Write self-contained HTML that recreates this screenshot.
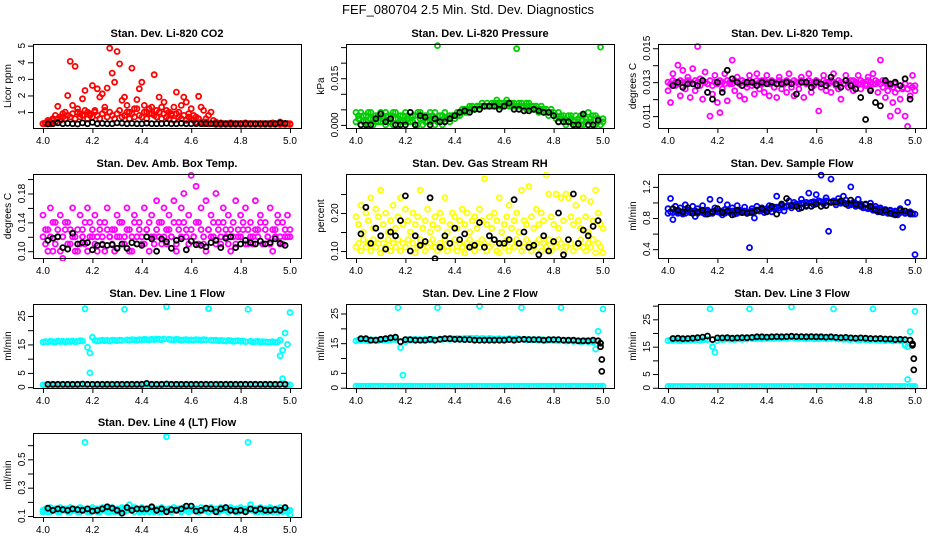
<!DOCTYPE html>
<html><head><meta charset="utf-8"><style>
body{margin:0;background:#fff;}
svg{display:block;font-family:"Liberation Sans",Arial,sans-serif;}
</style></head><body>
<svg id="chart" width="936" height="540" viewBox="0 0 936 540" xmlns="http://www.w3.org/2000/svg">
<rect width="936" height="540" fill="#fff"/>
<text x="468" y="14" text-anchor="middle" font-size="13">FEF_080704  2.5 Min. Std. Dev. Diagnostics</text>
</svg>
<script>
const t=[4.00,4.01,4.02,4.03,4.04,4.05,4.06,4.07,4.08,4.09,4.10,4.11,4.12,4.13,4.14,4.15,4.16,4.17,4.18,4.19,4.20,4.21,4.22,4.23,4.24,4.25,4.26,4.27,4.28,4.29,4.30,4.31,4.32,4.33,4.34,4.35,4.36,4.37,4.38,4.39,4.40,4.41,4.42,4.43,4.44,4.45,4.46,4.47,4.48,4.49,4.50,4.51,4.52,4.53,4.54,4.55,4.56,4.57,4.58,4.59,4.60,4.61,4.62,4.63,4.64,4.65,4.66,4.67,4.68,4.69,4.70,4.71,4.72,4.73,4.74,4.75,4.76,4.77,4.78,4.79,4.80,4.81,4.82,4.83,4.84,4.85,4.86,4.87,4.88,4.89,4.90,4.91,4.92,4.93,4.94,4.95,4.96,4.97,4.98,4.99,5.00];
const tb=[4.02,4.04,4.06,4.08,4.10,4.12,4.14,4.16,4.18,4.20,4.22,4.24,4.26,4.28,4.30,4.32,4.34,4.36,4.38,4.40,4.42,4.44,4.46,4.48,4.50,4.52,4.54,4.56,4.58,4.60,4.62,4.64,4.66,4.68,4.70,4.72,4.74,4.76,4.78,4.80,4.82,4.84,4.86,4.88,4.90,4.92,4.94,4.96,4.98];
const tEnd=[4.99,4.99,4.995,4.995];
const xTicks=[4.0,4.2,4.4,4.6,4.8,5.0];
const xTickLabels=["4.0","4.2","4.4","4.6","4.8","5.0"];

const co2A=[0.3,0.35,0.5,0.4,0.6,0.8,1.35,0.7,0.9,1.0,2.0,4.05,1.4,3.75,1.2,0.9,1.8,2.3,1.0,0.8,2.6,1.1,2.4,1.9,2.1,1.3,2.45,4.85,3.35,2.8,4.65,3.9,1.7,1.9,1.4,1.0,3.65,1.2,1.75,2.4,2.8,1.4,1.0,1.2,0.9,3.25,1.1,1.9,1.3,1.6,1.1,1.0,0.9,1.3,2.2,1.0,1.4,1.9,1.6,0.9,1.2,0.8,0.7,1.95,1.3,1.1,0.6,0.8,1.0,0.5,0.4,0.3,0.35,0.3,0.3,0.3,0.35,0.3,0.3,0.3,0.3,0.3,0.35,0.3,0.3,0.3,0.3,0.3,0.3,0.3,0.3,0.3,0.3,0.35,0.3,0.3,0.4,0.3,0.3,0.3,0.3];
const co2B=[0.3,0.3,0.4,0.3,0.5,0.4,0.6,0.5,0.7,0.6,0.8,0.7,0.9,0.6,1.0,0.7,0.8,1.1,0.6,0.9,0.7,1.0,0.8,0.6,0.9,1.1,0.7,1.0,0.8,0.6,0.9,1.1,0.7,0.8,1.0,0.6,0.9,0.7,1.2,0.8,0.7,1.0,0.6,0.9,1.3,0.8,0.7,1.0,0.6,0.9,0.7,0.6,0.8,0.5,0.9,0.7,0.6,0.8,0.5,0.7,0.6,0.5,0.4,0.6,0.4,0.3,0.4,0.3,0.3,0.3,0.25,0.3,0.25,0.3,0.25,0.3,0.25,0.3,0.25,0.3,0.25,0.3,0.25,0.3,0.25,0.3,0.25,0.3,0.25,0.3,0.25,0.3,0.25,0.3,0.25,0.3,0.25,0.3,0.25,0.3,0.25];
const co2K=[0.28,0.3,0.35,0.3,0.32,0.3,0.28,0.35,0.3,0.38,0.3,0.32,0.3,0.3,0.35,0.33,0.3,0.32,0.3,0.3,0.33,0.3,0.3,0.3,0.32,0.3,0.3,0.32,0.3,0.3,0.3,0.3,0.3,0.3,0.3,0.3,0.3,0.3,0.3,0.3,0.3,0.3,0.3,0.3,0.3,0.3,0.3,0.35,0.32];

const presA=[0.004,0.002,0.000,0.003,0.001,0.004,0.002,0.000,0.003,0.001,0.004,0.002,0.000,0.003,0.001,0.004,0.002,0.000,0.003,0.001,0.004,0.002,0.001,0.003,0.000,0.004,0.002,0.000,0.003,0.001,0.004,0.002,0.000,0.0255,0.001,0.003,0.002,0.002,0.003,0.003,0.003,0.004,0.004,0.005,0.005,0.005,0.006,0.006,0.005,0.006,0.006,0.007,0.006,0.007,0.006,0.007,0.007,0.008,0.007,0.007,0.007,0.008,0.007,0.007,0.006,0.0245,0.007,0.007,0.006,0.007,0.007,0.006,0.006,0.006,0.005,0.006,0.005,0.005,0.004,0.005,0.004,0.003,0.004,0.002,0.003,0.001,0.003,0.002,0.000,0.003,0.001,0.003,0.000,0.002,0.004,0.001,0.000,0.003,0.001,0.025,0.002];
const presB=[0.001,0.003,0.004,0.001,0.003,0.000,0.004,0.002,0.001,0.003,0.001,0.003,0.004,0.001,0.003,0.000,0.004,0.002,0.001,0.003,0.001,0.003,0.004,0.001,0.003,0.000,0.004,0.002,0.001,0.003,0.001,0.003,0.004,0.001,0.003,0.000,0.004,0.002,0.001,0.003,0.002,0.003,0.003,0.004,0.004,0.004,0.005,0.005,0.005,0.006,0.005,0.006,0.006,0.006,0.006,0.006,0.006,0.007,0.006,0.006,0.006,0.007,0.006,0.006,0.007,0.006,0.006,0.006,0.006,0.005,0.006,0.005,0.005,0.005,0.004,0.005,0.004,0.004,0.003,0.004,0.003,0.002,0.001,0.003,0.002,0.000,0.001,0.003,0.001,0.000,0.002,0.000,0.003,0.001,0.000,0.002,0.003,0.000,0.002,0.000,0.001];
const presK=[0,0,0,0.002,0.0035,0.001,0.002,0,0,0,0.004,0,0.003,0.0025,0,0.002,0.001,0.001,0.002,0.003,0.004,0.0045,0.004,0.005,0.005,0.006,0.006,0.006,0.005,0.006,0.007,0.005,0.005,0.0045,0.0045,0.005,0.0045,0.004,0.004,0.003,0.001,0.001,0.001,0,0,0.0035,0,0,0.0015];

const tempA=[0.0125,0.0118,0.0135,0.0128,0.0140,0.0122,0.0137,0.0126,0.0133,0.0121,0.0138,0.0125,0.0151,0.0132,0.0120,0.0136,0.0124,0.0110,0.0128,0.0134,0.0118,0.0112,0.0126,0.0135,0.0119,0.0129,0.0143,0.0125,0.0133,0.0122,0.0131,0.0120,0.0127,0.0134,0.0128,0.0123,0.0135,0.0126,0.0131,0.0124,0.0134,0.0122,0.0130,0.0127,0.0121,0.0133,0.0126,0.0129,0.0124,0.0135,0.0127,0.0122,0.0130,0.0126,0.0133,0.0121,0.0129,0.0135,0.0124,0.0128,0.0131,0.0113,0.0127,0.0134,0.0125,0.0130,0.0124,0.0135,0.0128,0.0126,0.0120,0.0129,0.0134,0.0127,0.0131,0.0125,0.0129,0.0134,0.0126,0.0130,0.0128,0.0133,0.0126,0.0135,0.0129,0.0124,0.0143,0.0127,0.0121,0.0125,0.0110,0.0118,0.0124,0.0113,0.0120,0.0126,0.0110,0.0104,0.0122,0.0134,0.0125];
const tempB=[0.0130,0.0129,0.0131,0.0130,0.0129,0.0131,0.0130,0.0129,0.0131,0.0130,0.0129,0.0131,0.0130,0.0128,0.0131,0.0130,0.0129,0.0131,0.0123,0.0130,0.0129,0.0131,0.0130,0.0129,0.0131,0.0130,0.0129,0.0131,0.0130,0.0129,0.0131,0.0130,0.0129,0.0131,0.0130,0.0129,0.0131,0.0130,0.0129,0.0131,0.0130,0.0129,0.0131,0.0130,0.0129,0.0131,0.0130,0.0129,0.0131,0.0130,0.0129,0.0131,0.0130,0.0129,0.0131,0.0130,0.0129,0.0131,0.0130,0.0129,0.0131,0.0130,0.0129,0.0131,0.0130,0.0129,0.0131,0.0130,0.0129,0.0131,0.0130,0.0129,0.0131,0.0130,0.0129,0.0131,0.0130,0.0129,0.0131,0.0130,0.0129,0.0131,0.0130,0.0129,0.0131,0.0130,0.0129,0.0131,0.0130,0.0129,0.0128,0.0127,0.0129,0.0126,0.0128,0.0127,0.0129,0.0126,0.0128,0.0127,0.0128];
const tempK=[0.0128,0.0130,0.0127,0.0129,0.0129,0.0128,0.0131,0.0124,0.0120,0.0130,0.0124,0.0137,0.0132,0.0130,0.0128,0.0130,0.0130,0.0128,0.0130,0.0129,0.0130,0.0129,0.0129,0.0130,0.0129,0.0123,0.0130,0.0130,0.0127,0.0130,0.0129,0.0128,0.0133,0.0129,0.0127,0.0131,0.0128,0.0126,0.0121,0.0108,0.0125,0.0118,0.0116,0.0131,0.0129,0.0130,0.0128,0.0132,0.0120];

const ambA=[0.15,0.11,0.13,0.16,0.10,0.14,0.12,0.15,0.09,0.13,0.14,0.11,0.16,0.12,0.10,0.15,0.13,0.11,0.16,0.14,0.12,0.15,0.10,0.13,0.11,0.14,0.16,0.12,0.13,0.10,0.15,0.12,0.14,0.11,0.16,0.13,0.10,0.15,0.12,0.14,0.11,0.16,0.13,0.10,0.15,0.12,0.17,0.14,0.11,0.16,0.13,0.15,0.12,0.17,0.10,0.14,0.16,0.18,0.13,0.15,0.205,0.12,0.19,0.14,0.16,0.11,0.17,0.13,0.15,0.12,0.18,0.14,0.11,0.16,0.13,0.15,0.10,0.14,0.17,0.12,0.15,0.13,0.16,0.11,0.14,0.12,0.17,0.13,0.15,0.11,0.14,0.12,0.16,0.10,0.13,0.15,0.11,0.14,0.12,0.15,0.13];
const ambB=[0.12,0.13,0.10,0.12,0.14,0.11,0.13,0.10,0.12,0.14,0.11,0.13,0.12,0.10,0.13,0.11,0.12,0.14,0.10,0.12,0.13,0.11,0.12,0.14,0.12,0.10,0.13,0.12,0.11,0.13,0.12,0.14,0.11,0.12,0.13,0.10,0.12,0.14,0.11,0.13,0.12,0.11,0.13,0.14,0.12,0.11,0.13,0.12,0.14,0.12,0.11,0.13,0.12,0.14,0.11,0.13,0.12,0.14,0.12,0.11,0.13,0.12,0.14,0.11,0.13,0.12,0.10,0.13,0.12,0.14,0.11,0.13,0.12,0.14,0.12,0.11,0.13,0.12,0.11,0.13,0.12,0.14,0.11,0.13,0.12,0.11,0.13,0.12,0.14,0.11,0.13,0.12,0.11,0.13,0.12,0.14,0.12,0.11,0.13,0.12,0.12];
const ambK=[0.115,0.118,0.12,0.105,0.103,0.125,0.11,0.112,0.112,0.102,0.108,0.109,0.108,0.109,0.104,0.11,0.104,0.112,0.11,0.108,0.12,0.117,0.100,0.117,0.113,0.104,0.115,0.117,0.102,0.114,0.109,0.108,0.106,0.112,0.115,0.105,0.118,0.12,0.105,0.110,0.115,0.112,0.110,0.114,0.110,0.112,0.117,0.111,0.108];

const rhA=[0.19,0.17,0.22,0.15,0.20,0.18,0.24,0.16,0.21,0.19,0.26,0.17,0.20,0.15,0.18,0.22,0.16,0.19,0.24,0.17,0.21,0.18,0.15,0.20,0.17,0.19,0.26,0.16,0.18,0.21,0.15,0.17,0.19,0.16,0.20,0.18,0.24,0.15,0.17,0.20,0.19,0.16,0.18,0.21,0.17,0.20,0.15,0.18,0.19,0.16,0.21,0.18,0.29,0.17,0.19,0.16,0.20,0.18,0.24,0.15,0.17,0.19,0.22,0.16,0.18,0.20,0.15,0.26,0.18,0.17,0.27,0.19,0.16,0.21,0.17,0.20,0.18,0.30,0.25,0.19,0.17,0.25,0.16,0.24,0.18,0.25,0.24,0.19,0.17,0.22,0.18,0.16,0.24,0.19,0.15,0.23,0.18,0.26,0.20,0.17,0.16];
const rhB=[0.11,0.12,0.10,0.13,0.11,0.12,0.10,0.13,0.11,0.12,0.095,0.12,0.11,0.13,0.10,0.12,0.11,0.13,0.10,0.12,0.11,0.13,0.10,0.12,0.095,0.11,0.13,0.12,0.10,0.11,0.12,0.13,0.11,0.10,0.12,0.11,0.13,0.10,0.12,0.11,0.13,0.10,0.12,0.11,0.095,0.12,0.13,0.11,0.10,0.12,0.11,0.13,0.12,0.10,0.11,0.12,0.13,0.10,0.095,0.12,0.11,0.13,0.10,0.12,0.11,0.13,0.12,0.10,0.11,0.13,0.12,0.10,0.11,0.12,0.13,0.10,0.12,0.11,0.13,0.10,0.12,0.11,0.13,0.12,0.10,0.11,0.13,0.12,0.10,0.11,0.12,0.13,0.11,0.10,0.12,0.11,0.13,0.095,0.12,0.11,0.095];
const rhK=[0.145,0.215,0.12,0.16,0.14,0.105,0.15,0.14,0.18,0.245,0.10,0.14,0.115,0.125,0.24,0.08,0.11,0.14,0.12,0.16,0.13,0.145,0.11,0.115,0.175,0.11,0.14,0.13,0.12,0.12,0.13,0.235,0.12,0.15,0.11,0.115,0.09,0.14,0.10,0.125,0.20,0.09,0.13,0.25,0.12,0.155,0.14,0.165,0.18];

const flowA=[0.92,1.05,0.78,0.95,0.88,0.93,0.85,0.97,0.90,0.87,0.95,0.82,0.92,0.88,0.96,0.85,0.90,1.04,0.86,0.93,0.89,1.03,0.84,0.91,0.97,0.87,0.93,0.85,0.96,0.90,0.88,0.94,0.86,0.42,0.92,0.80,0.95,0.89,0.93,0.87,0.91,0.96,0.88,0.94,1.08,0.90,0.97,0.89,0.95,1.02,0.93,1.00,0.96,0.92,1.04,0.98,0.95,1.12,1.00,0.97,1.10,1.02,1.35,0.98,1.06,0.63,1.30,1.01,0.97,1.05,0.99,1.08,1.03,0.96,1.20,1.00,0.95,1.04,0.98,0.93,0.97,0.92,0.99,0.90,0.95,0.88,0.93,0.87,0.91,0.86,0.90,0.85,0.89,0.84,0.92,0.68,0.86,1.00,0.88,0.85,0.33];
const flowB=[0.86,0.88,0.87,0.89,0.86,0.88,0.87,0.86,0.89,0.88,0.87,0.89,0.86,0.88,0.87,0.89,0.88,0.86,0.87,0.89,0.88,0.87,0.89,0.86,0.88,0.87,0.89,0.88,0.86,0.88,0.87,0.89,0.88,0.87,0.89,0.88,0.90,0.89,0.91,0.90,0.92,0.91,0.93,0.92,0.94,0.93,0.95,0.94,0.95,0.96,0.96,0.97,0.98,0.97,0.99,0.98,1.00,0.99,1.00,1.01,1.00,1.02,1.01,1.00,1.02,1.01,1.00,1.02,1.01,1.00,0.99,1.00,0.98,0.99,0.97,0.98,0.96,0.97,0.95,0.94,0.93,0.92,0.93,0.91,0.92,0.90,0.91,0.89,0.90,0.88,0.89,0.87,0.88,0.86,0.87,0.88,0.86,0.87,0.85,0.86,0.85];
const flowK=[0.92,0.9,0.88,0.93,0.86,0.88,0.9,0.85,0.88,0.92,0.87,0.89,0.84,0.9,0.87,0.86,0.87,0.9,0.92,0.88,0.95,0.85,0.98,1.05,0.96,0.95,0.93,0.96,0.95,0.98,0.95,0.96,1.0,1.0,1.02,0.98,1.03,0.98,0.96,0.98,0.95,0.9,0.88,0.9,0.86,0.84,0.9,0.89,0.86];

const l1A=[15.8,16.0,15.9,16.1,16.0,15.8,16.2,16.0,16.1,15.9,16.1,16.0,16.2,15.9,16.1,16.3,16.2,27.5,14.0,12.0,17.5,16.4,16.2,16.3,16.5,16.3,16.4,16.2,16.5,16.4,16.3,16.5,16.4,27.3,16.6,16.5,16.7,16.6,16.5,16.7,16.6,16.8,16.7,16.6,16.8,16.7,16.9,16.8,16.7,16.9,28.2,16.8,16.7,16.6,16.8,16.7,16.5,16.6,16.7,16.5,16.6,16.5,16.7,16.6,16.5,16.7,16.6,27.6,16.5,16.4,16.5,16.3,16.4,16.3,16.2,16.4,16.3,16.1,16.2,16.3,16.1,16.2,16.0,27.3,16.1,15.9,16.0,16.1,15.8,16.0,15.9,15.7,15.8,16.0,15.7,15.9,16.5,13.0,19.0,15.0,26.2];
const l1B=[0.8,0.8,0.8,0.8,0.8,0.8,0.8,0.8,0.8,0.8,0.8,0.8,0.8,0.8,0.8,0.8,0.8,0.8,0.8,5.0,0.8,0.8,0.8,0.8,0.8,0.8,0.8,0.8,0.8,0.8,0.8,0.8,0.8,0.8,0.8,0.8,0.8,0.8,0.8,0.8,0.8,0.8,0.8,0.8,0.8,0.8,0.8,0.8,0.8,0.8,0.8,0.8,0.8,0.8,0.8,0.8,0.8,0.8,0.8,0.8,0.8,0.8,0.8,0.8,0.8,0.8,0.8,0.8,0.8,0.8,0.8,0.8,0.8,0.8,0.8,0.8,0.8,0.8,0.8,0.8,0.8,0.8,0.8,0.8,0.8,0.8,0.8,0.8,0.8,0.8,0.8,0.8,0.8,0.8,0.8,0.8,11.0,3.0,0.8,0.8,0.8];
const l1K=[1.0,1.0,1.0,1.0,1.0,1.0,1.0,1.1,1.0,1.0,1.0,1.0,1.0,1.0,1.0,1.0,1.0,1.0,1.0,1.0,1.3,1.0,1.0,1.0,1.1,1.0,1.0,1.0,1.0,1.0,1.0,1.0,1.0,1.0,1.0,1.0,1.0,1.0,1.0,1.0,1.0,1.0,1.0,1.0,1.0,1.0,1.0,1.0,1.0];

const l2A=[15.8,16.0,15.9,16.1,16.0,15.8,16.2,16.0,16.1,15.9,16.1,16.0,16.2,15.9,16.1,16.3,16.2,27.0,13.5,4.2,15.5,16.2,16.0,16.1,16.3,16.1,16.2,16.0,16.3,16.2,16.1,16.3,16.2,27.0,16.4,16.3,16.5,16.4,16.3,16.5,16.4,16.6,16.5,16.4,16.6,16.5,16.7,16.6,16.5,16.7,27.5,16.6,16.5,16.4,16.6,16.5,16.3,16.4,16.5,16.3,16.4,16.3,16.5,16.4,16.3,16.5,16.4,27.0,16.3,16.2,16.3,16.1,16.2,16.1,16.0,16.2,16.1,15.9,16.0,16.1,15.9,16.0,15.8,27.0,15.9,15.7,15.8,15.9,15.6,15.8,15.7,15.5,15.6,15.8,15.5,15.7,15.3,13.0,19.0,15.0,26.5];
const l2B=[0.5,0.5,0.5,0.5,0.5,0.5,0.5,0.5,0.5,0.5,0.5,0.5,0.5,0.5,0.5,0.5,0.5,0.5,0.5,0.5,0.5,0.5,0.5,0.5,0.5,0.5,0.5,0.5,0.5,0.5,0.5,0.5,0.5,0.5,0.5,0.5,0.5,0.5,0.5,0.5,0.5,0.5,0.5,0.5,0.5,0.5,0.5,0.5,0.5,0.5,0.5,0.5,0.5,0.5,0.5,0.5,0.5,0.5,0.5,0.5,0.5,0.5,0.5,0.5,0.5,0.5,0.5,0.5,0.5,0.5,0.5,0.5,0.5,0.5,0.5,0.5,0.5,0.5,0.5,0.5,0.5,0.5,0.5,0.5,0.5,0.5,0.5,0.5,0.5,0.5,0.5,0.5,0.5,0.5,0.5,0.5,0.5,0.5,0.5,0.5,0.5];
const l2K=[16.5,16.5,16.0,16.0,16.3,16.5,16.8,17.0,15.5,16.2,16.2,16.0,16.0,16.0,16.3,16.0,16.3,16.5,16.5,16.3,16.3,16.2,16.2,16.0,16.0,16.0,16.0,16.0,16.0,16.0,16.2,16.0,16.2,16.3,16.2,16.2,16.2,16.0,16.2,16.2,16.2,16.0,16.0,16.0,15.8,15.8,15.8,16.0,15.8];
const l2End=[15.0,13.8,9.5,5.5];

const l3A=[17.2,17.4,17.3,17.5,17.4,17.2,17.6,17.4,17.5,17.3,17.5,17.4,17.6,17.3,17.5,17.7,17.6,28.8,15.0,13.0,17.2,17.8,17.6,17.7,17.9,17.7,17.8,17.6,17.9,17.8,17.7,17.9,17.8,28.8,18.0,17.9,18.1,18.0,17.9,18.1,18.0,18.2,18.1,18.0,18.2,18.1,18.3,18.2,18.1,18.3,29.5,18.2,18.1,18.0,18.2,18.1,17.9,18.0,18.1,17.9,18.0,17.9,18.1,18.0,17.9,18.1,18.0,28.8,17.9,17.8,17.9,17.7,17.8,17.7,17.6,17.8,17.7,17.5,17.6,17.7,17.5,17.6,17.4,28.8,17.5,17.3,17.4,17.5,17.2,17.4,17.3,17.1,17.2,17.4,17.1,17.3,15.5,15.0,20.5,16.0,27.9];
const l3B=[0.5,0.5,0.5,0.5,0.5,0.5,0.5,0.5,0.5,0.5,0.5,0.5,0.5,0.5,0.5,0.5,0.5,0.5,0.5,0.5,0.5,0.5,0.5,0.5,0.5,0.5,0.5,0.5,0.5,0.5,0.5,0.5,0.5,0.5,0.5,0.5,0.5,0.5,0.5,0.5,0.5,0.5,0.5,0.5,0.5,0.5,0.5,0.5,0.5,0.5,0.5,0.5,0.5,0.5,0.5,0.5,0.5,0.5,0.5,0.5,0.5,0.5,0.5,0.5,0.5,0.5,0.5,0.5,0.5,0.5,0.5,0.5,0.5,0.5,0.5,0.5,0.5,0.5,0.5,0.5,0.5,0.5,0.5,0.5,0.5,0.5,0.5,0.5,0.5,0.5,0.5,0.5,0.5,0.5,0.5,0.5,0.5,3.0,0.5,0.5,0.5];
const l3K=[18.0,18.1,17.9,18.0,18.1,18.3,18.5,18.9,17.6,18.2,18.2,18.3,18.1,18.2,18.3,18.3,18.4,18.6,18.6,18.5,18.6,18.7,18.6,18.7,18.8,18.7,18.7,18.6,18.7,18.6,18.6,18.5,18.6,18.4,18.3,18.4,18.2,18.1,18.2,18.1,18.0,17.9,18.0,17.8,17.8,17.6,17.7,17.6,17.4];
const l3End=[16.0,15.5,10.6,6.5];

const l4A=[0.14,0.15,0.13,0.16,0.14,0.15,0.13,0.16,0.14,0.15,0.13,0.16,0.14,0.15,0.13,0.16,0.14,0.62,0.15,0.13,0.16,0.14,0.15,0.13,0.16,0.14,0.15,0.13,0.16,0.14,0.15,0.13,0.16,0.14,0.15,0.18,0.14,0.16,0.15,0.13,0.16,0.14,0.15,0.13,0.16,0.14,0.15,0.13,0.16,0.14,0.66,0.15,0.13,0.16,0.14,0.15,0.13,0.16,0.14,0.15,0.17,0.14,0.15,0.13,0.16,0.14,0.15,0.13,0.16,0.14,0.15,0.13,0.16,0.14,0.15,0.13,0.16,0.14,0.15,0.13,0.16,0.14,0.15,0.62,0.18,0.14,0.15,0.13,0.16,0.14,0.15,0.13,0.16,0.14,0.15,0.13,0.16,0.14,0.15,0.13,0.14];
const l4B=[0.13,0.14,0.15,0.13,0.14,0.15,0.14,0.13,0.15,0.14,0.15,0.13,0.14,0.15,0.14,0.13,0.15,0.14,0.13,0.15,0.14,0.15,0.13,0.14,0.15,0.14,0.13,0.15,0.14,0.13,0.15,0.14,0.15,0.13,0.14,0.15,0.14,0.13,0.15,0.14,0.15,0.13,0.14,0.15,0.14,0.13,0.15,0.14,0.13,0.15,0.14,0.15,0.13,0.14,0.15,0.14,0.13,0.15,0.14,0.13,0.15,0.14,0.15,0.13,0.14,0.15,0.14,0.13,0.15,0.14,0.15,0.13,0.14,0.15,0.14,0.13,0.15,0.14,0.13,0.15,0.14,0.15,0.13,0.14,0.15,0.14,0.13,0.15,0.14,0.13,0.15,0.14,0.15,0.13,0.14,0.15,0.14,0.13,0.15,0.14,0.11];
const l4K=[0.155,0.14,0.15,0.145,0.14,0.15,0.145,0.14,0.15,0.135,0.14,0.15,0.165,0.155,0.14,0.12,0.16,0.14,0.15,0.15,0.15,0.165,0.14,0.15,0.13,0.145,0.14,0.15,0.17,0.17,0.135,0.14,0.155,0.15,0.13,0.15,0.16,0.14,0.135,0.14,0.13,0.15,0.14,0.15,0.14,0.14,0.145,0.14,0.16];

const panelTitles=["Stan. Dev. Li-820 CO2","Stan. Dev. Li-820 Pressure","Stan. Dev. Li-820 Temp.","Stan. Dev. Amb. Box Temp.","Stan. Dev. Gas Stream RH","Stan. Dev. Sample Flow","Stan. Dev. Line 1 Flow","Stan. Dev. Line 2 Flow","Stan. Dev. Line 3 Flow","Stan. Dev. Line 4 (LT) Flow"];
const yTitles=["Licor ppm","kPa","degrees C","degrees C","percent","ml/min","ml/min","ml/min","ml/min","ml/min"];
const yRanges=[[0.04,5.1],[-0.001,0.026],[0.0103,0.01525],[0.0906,0.207],[0.0816,0.3026],[0.287,1.365],[-0.3,29.2],[-0.1,28.2],[-0.1,30.6],[0.093,0.686]];
const yTicks=[[1,2,3,4,5],[0,0.005,0.01,0.015,0.02,0.025],[0.011,0.012,0.013,0.014,0.015],[0.10,0.12,0.14,0.16,0.18,0.20],[0.10,0.15,0.20,0.25],[0.4,0.6,0.8,1.0,1.2],[0,5,10,15,20,25],[0,5,10,15,20,25],[0,5,10,15,20,25,30],[0.1,0.2,0.3,0.4,0.5,0.6]];
const yTickLabels=[["1","2","3","4","5"],["0.000","","","0.015","",""],["0.011","","0.013","","0.015"],["0.10","","0.14","","0.18",""],["0.10","","0.20",""],["0.4","","0.8","","1.2"],["0","5","","15","","25"],["0","5","","15","","25"],["0","5","","15","","25",""],["0.1","","0.3","","0.5",""]];
const seriesDefs=[
 [[t,co2A,"#ff0000"],[t,co2B,"#ff0000"],[tb,co2K,"#000"]],
 [[t,presA,"#00cd00"],[t,presB,"#00cd00"],[tb,presK,"#000"]],
 [[t,tempA,"#ff00ff"],[t,tempB,"#ff00ff"],[tb,tempK,"#000"]],
 [[t,ambA,"#ff00ff"],[t,ambB,"#ff00ff"],[tb,ambK,"#000"]],
 [[t,rhA,"#ffff00"],[t,rhB,"#ffff00"],[tb,rhK,"#000"]],
 [[t,flowA,"#0000ff"],[t,flowB,"#0000ff"],[tb,flowK,"#000"]],
 [[t,l1A,"#00ffff"],[t,l1B,"#00ffff"],[tb,l1K,"#000"]],
 [[t,l2A,"#00ffff"],[t,l2B,"#00ffff"],[tb,l2K,"#000"],[tEnd,l2End,"#000"]],
 [[t,l3A,"#00ffff"],[t,l3B,"#00ffff"],[tb,l3K,"#000"],[tEnd,l3End,"#000"]],
 [[t,l4A,"#00ffff"],[t,l4B,"#00ffff"],[tb,l4K,"#000"]]
];

const NS="http://www.w3.org/2000/svg";
const svg=document.getElementById("chart");
const lefts=[33,346,658], tops=[44,174,304,433], W=268, H=84;
function mk(tag,attrs,parent,text){const e=document.createElementNS(NS,tag);for(const k in attrs)e.setAttribute(k,attrs[k]);if(text!==undefined)e.textContent=text;parent.appendChild(e);return e;}
function slug(s){return s.toLowerCase().replace(/[^a-z0-9]+/g,'-').replace(/^-|-$/g,'');}

panelTitles.forEach((title,i)=>{
  const L=lefts[i%3], T=tops[Math.floor(i/3)];
  const xs=v=>L+10+(v-4)*247;
  const [y0,y1]=yRanges[i];
  const ys=v=>T+H-(v-y0)/(y1-y0)*H;
  const g=mk("g",{},svg);
  
  
  const tt=mk("text",{x:L+W/2,y:T-7,"text-anchor":"middle","font-size":"11","font-weight":"bold"},g,title);
  
  
  const cp=mk("clipPath",{id:"cp"+i},g);
  mk("rect",{x:L-3,y:T-6,width:W+6,height:H+9},cp);
  const pts=mk("g",{"clip-path":"url(#cp"+i+")"},g);
  
  
  seriesDefs[i].forEach(([xa,ya,col])=>{
    ya.forEach((v,j)=>{
      const c=mk("circle",{cx:xs(xa[j]).toFixed(1),cy:ys(v).toFixed(1),r:"2.5",fill:"none",stroke:col,"stroke-width":"1.8"},pts);
      
      
    });
  });
  const box=mk("rect",{x:L+0.5,y:T+0.5,width:W,height:H,fill:"none",stroke:"#000","stroke-width":"1"},g);
  
  
  const xa=mk("g",{},g);
  
  
  mk("line",{x1:xs(xTicks[0]),x2:xs(xTicks[xTicks.length-1]),y1:T+H+0.5,y2:T+H+0.5,stroke:"#000"},xa);
  xTicks.forEach((v,j)=>{
    mk("line",{x1:xs(v)+0.5,x2:xs(v)+0.5,y1:T+H,y2:T+H+5,stroke:"#000"},xa);
    const lb=mk("text",{x:xs(v),y:T+H+16,"text-anchor":"middle","font-size":"10"},xa,xTickLabels[j]);
    
    
  });
  const ya=mk("g",{},g);
  
  
  yTicks[i].forEach((v,j)=>{
    const y=ys(v);
    if(y<T-1) return;
    mk("line",{x1:L-5,x2:L,y1:y+0.5,y2:y+0.5,stroke:"#000"},ya);
    const s=yTickLabels[i][j];
    if(s){
      const lb=mk("text",{x:0,y:0,"text-anchor":"middle","font-size":"10",transform:"translate("+(L-8)+","+y+") rotate(-90)"},ya,s);
      
      
    }
  });
  const yt=mk("text",{x:0,y:0,"text-anchor":"middle","font-size":"10",transform:"translate("+(L-22)+","+(T+H/2)+") rotate(-90)"},g,yTitles[i]);
  
  
});
</script>
</body></html>
